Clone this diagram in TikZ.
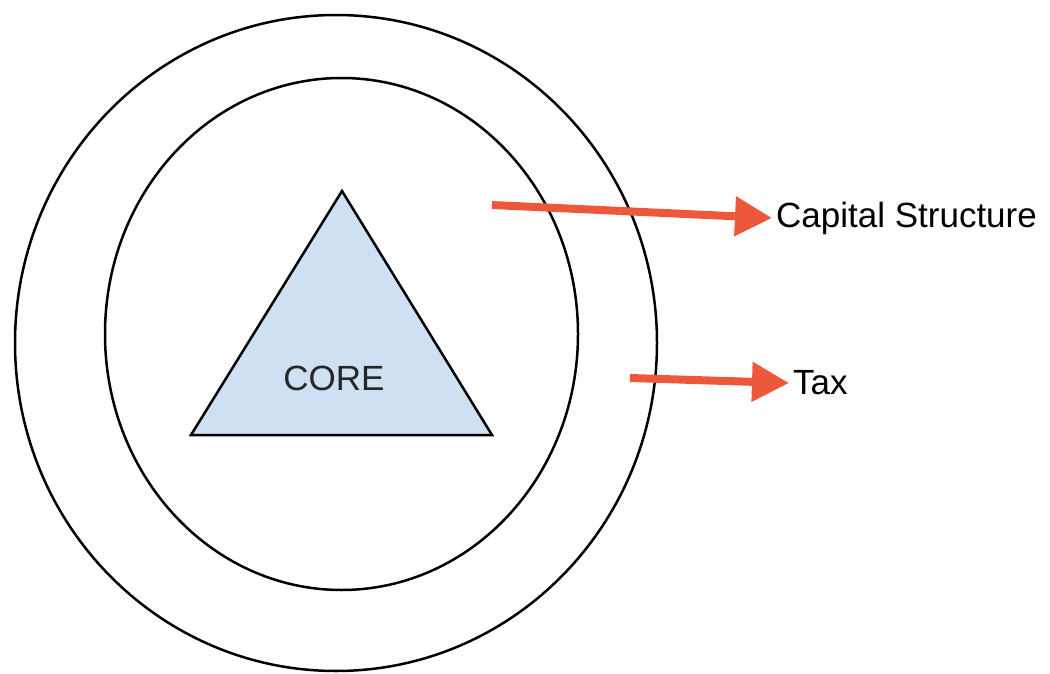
\documentclass[tikz,border=0pt]{standalone}
\usepackage{fontspec}
\setmainfont{Liberation Sans}
\usetikzlibrary{positioning,arrows.meta,shapes.geometric}
\definecolor{coreblue}{RGB}{207,224,242}
\definecolor{arrowred}{RGB}{238,88,58}
\tikzset{
    x=1pt,
    y=-1pt,
    ring/.style = {
        draw,
        shape=ellipse,
        line width=2.5pt,
        inner sep=0pt
    },
    core/.style = {
        draw,
        fill=coreblue,
        line width=2.5pt,
        line join=miter
    },
    tag/.style = {
        shape=rectangle,
        inner sep=4pt,
        anchor=west,
        font=\fontsize{35}{42}\selectfont
    },
    pointer/.style = {
        draw,
        color=arrowred,
        line width=8pt,
        -{Triangle[length=37pt,width=38pt]}
    },
}

\begin{document}
\begin{tikzpicture}
    \useasboundingbox (0,0) rectangle (1050,674);

    % the two rings
    \node[ring, minimum width=642pt, minimum height=656pt] (outer) at (336,343) {};
    \node[ring, minimum width=473pt, minimum height=512pt] (inner) at (341.5,334) {};

    % the core
    \coordinate (apex) at (342,191);
    \coordinate (baseleft) at (191,435);
    \coordinate (baseright) at (492,435);
    \path[core] (apex) -- (baseleft) -- (baseright) -- cycle;
    \node[font=\fontsize{35}{42}\selectfont, text=black!85] (corelbl) at (334,378) {CORE};

    % labels on the right
    \node[tag] (capital) at (772,218) {Capital Structure};
    \node[tag] (tax) at (789,383) {Tax};

    \coordinate (capstart) at (492,205);
    \coordinate (taxstart) at (630,378);
    \path[pointer] (capstart) -- (capital.west);
    \path[pointer] (taxstart) -- (tax.west);
\end{tikzpicture}
\end{document}
